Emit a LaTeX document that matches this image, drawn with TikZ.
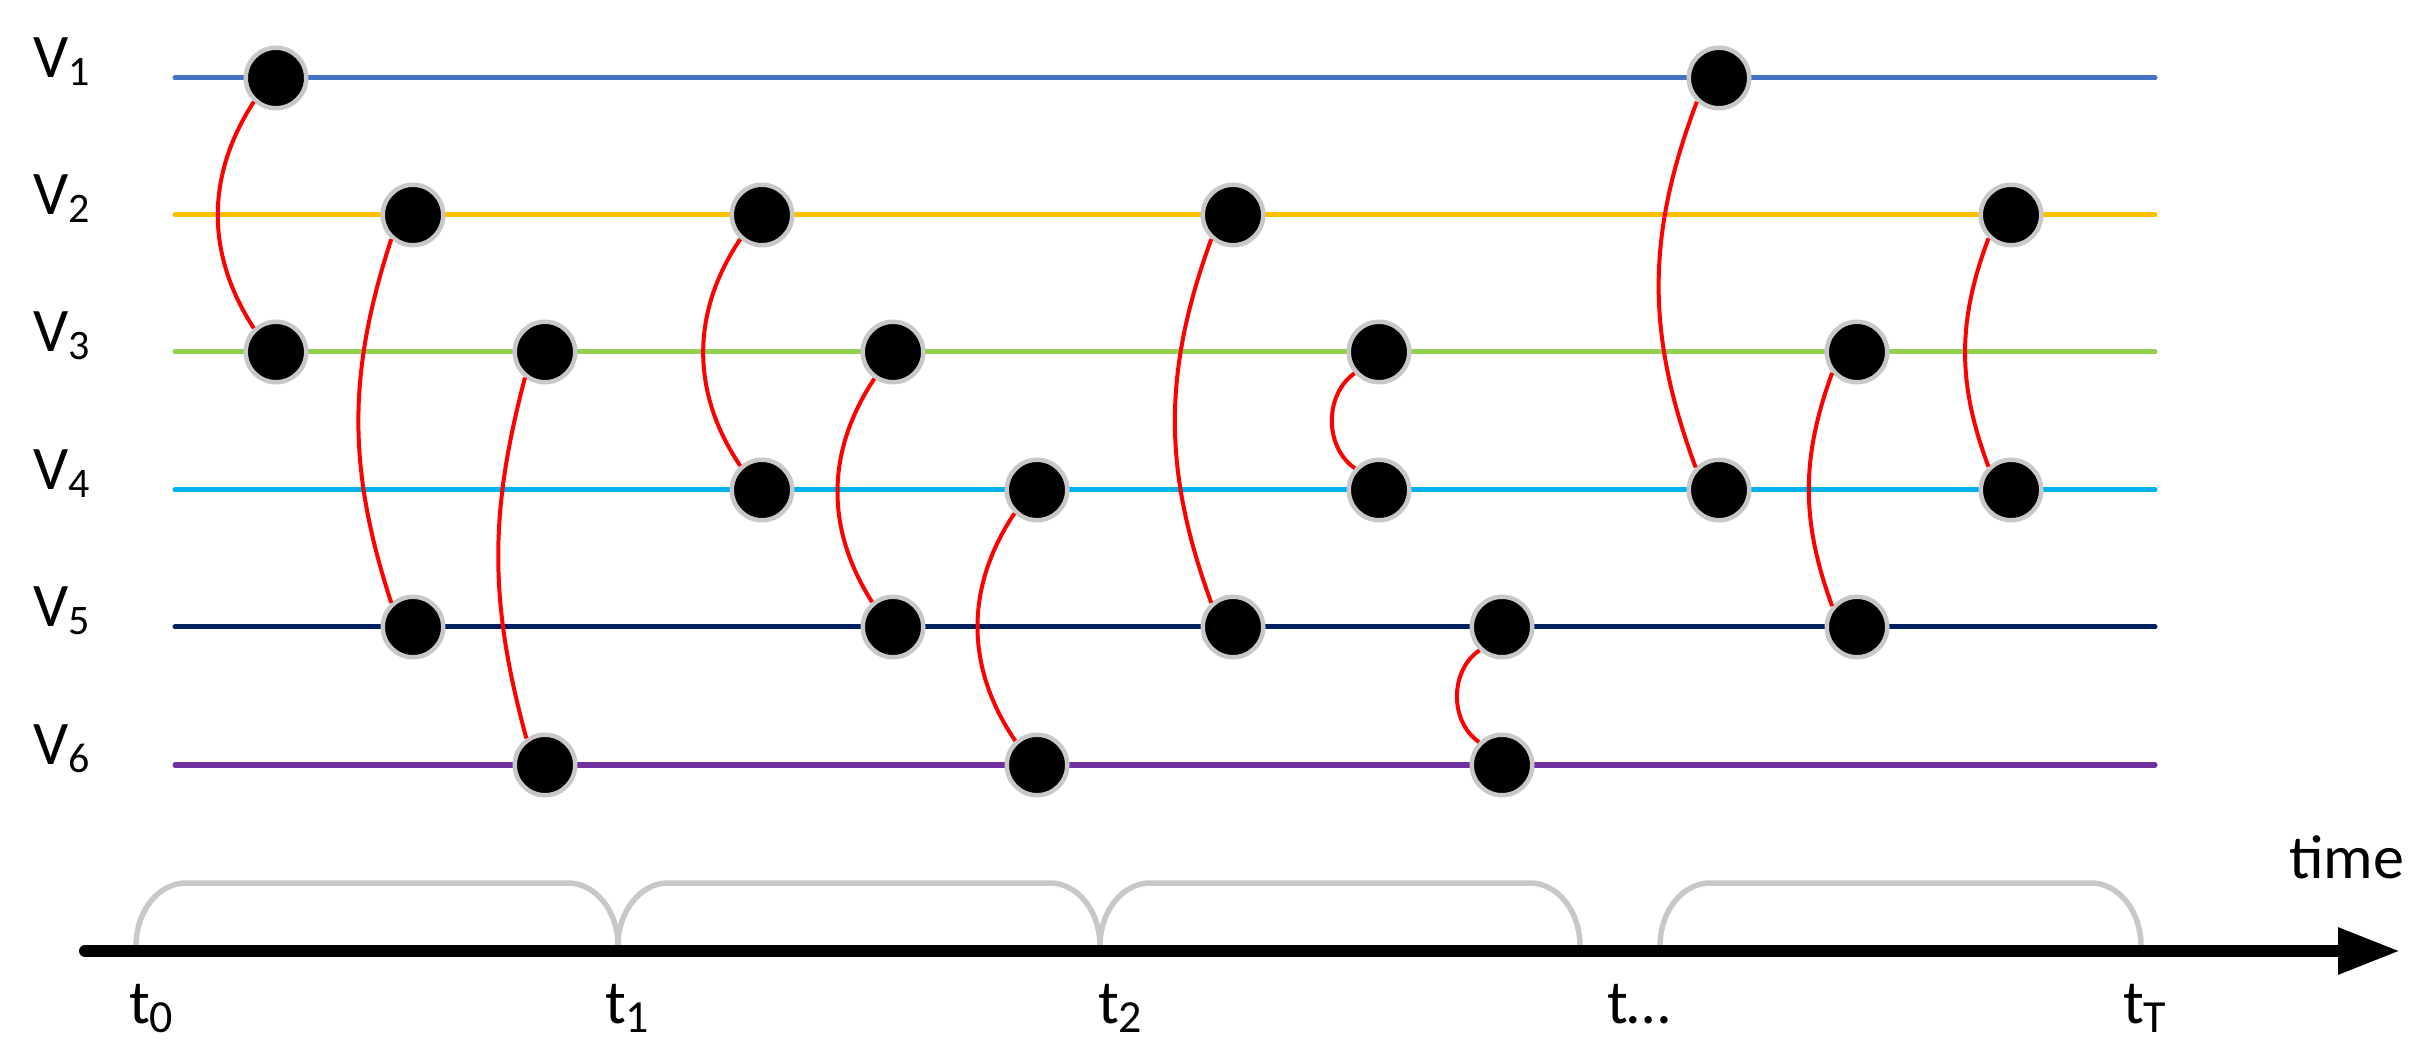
\documentclass[tikz,border=0pt]{standalone}
\usepackage{fontspec}
\setmainfont{Carlito}
\usetikzlibrary{arrows.meta}
\definecolor{cV1}{HTML}{4472C4}
\definecolor{cV2}{HTML}{FFC000}
\definecolor{cV3}{HTML}{92D050}
\definecolor{cV4}{HTML}{00B0F0}
\definecolor{cV5}{HTML}{002060}
\definecolor{cV6}{HTML}{7030A0}
\definecolor{ringgray}{HTML}{C8C8C8}
\definecolor{edgered}{HTML}{FF0000}
\newcommand{\bigtxt}{\fontsize{62}{70}\selectfont}
\newcommand{\subtxt}[3]{\raisebox{-#1pt}{\fontsize{#2}{#2}\selectfont #3}}
\begin{document}
\begin{tikzpicture}[x=1pt,y=1pt,
  tline/.style={line width=5pt,line cap=round},
  event/.style={circle,fill=black,draw=ringgray,line width=4.5pt,minimum size=60.5pt,inner sep=0pt},
  link/.style={draw=edgered,line width=4pt},
  lab/.style={inner sep=0pt,anchor=base west,font=\bigtxt},
  brace/.style={draw=ringgray,line width=5.5pt}]
\useasboundingbox (0,0) rectangle (2435,1050);
% time lines
\draw[tline,cV1] (175,972) -- (2155,972);
\draw[tline,cV2] (175,835) -- (2155,835);
\draw[tline,cV3] (175,698) -- (2155,698);
\draw[tline,cV4] (175,560) -- (2155,560);
\draw[tline,cV5] (175,423) -- (2155,423);
\draw[tline,cV6] (175,285) -- (2155,285);
% labels
\node[lab] (l1) at (33,972) {V\subtxt{8}{42}{1}};
\node[lab] (l2) at (33,835) {V\subtxt{8}{42}{2}};
\node[lab] (l3) at (33,698) {V\subtxt{8}{42}{3}};
\node[lab] (l4) at (33,560) {V\subtxt{8}{42}{4}};
\node[lab] (l5) at (33,423) {V\subtxt{8}{42}{5}};
\node[lab] (l6) at (33,285) {V\subtxt{8}{42}{6}};
% events
\node[event] (n11) at (276,972) {};
\node[event] (n12) at (1719,972) {};
\node[event] (n21) at (413,835) {};
\node[event] (n22) at (762,835) {};
\node[event] (n23) at (1233,835) {};
\node[event] (n24) at (2011,835) {};
\node[event] (n31) at (276,698) {};
\node[event] (n32) at (545,698) {};
\node[event] (n33) at (893,698) {};
\node[event] (n34) at (1379,698) {};
\node[event] (n35) at (1857,698) {};
\node[event] (n41) at (762,560) {};
\node[event] (n42) at (1037,560) {};
\node[event] (n43) at (1379,560) {};
\node[event] (n44) at (1719,560) {};
\node[event] (n45) at (2011,560) {};
\node[event] (n51) at (413,423) {};
\node[event] (n52) at (893,423) {};
\node[event] (n53) at (1233,423) {};
\node[event] (n54) at (1502,423) {};
\node[event] (n55) at (1857,423) {};
\node[event] (n61) at (545,285) {};
\node[event] (n62) at (1037,285) {};
\node[event] (n63) at (1502,285) {};
% links
\draw[link] (n11.227) to[bend right=33] (n31.133);
\draw[link] (n21.228) to[bend right=18] (n51.132);
\draw[link] (n32.232) to[bend right=15] (n61.125);
\draw[link] (n22.228) to[bend right=34] (n41.132);
\draw[link] (n33.235) to[bend right=33] (n52.130);
\draw[link] (n42.226) to[bend right=34] (n62.132);
\draw[link] (n23.228) to[bend right=20] (n53.132);
\draw[link] (n34.221) to[bend right=55] (n43.138);
\draw[link] (n54.226) to[bend right=56] (n63.135);
\draw[link] (n12.227) to[bend right=20.5] (n44.136);
\draw[link] (n35.220) to[bend right=20] (n55.140);
\draw[link] (n24.226) to[bend right=20.5] (n45.134);
% braces
\draw[brace] (136,104) arc[start angle=180,end angle=90,x radius=50,y radius=63] -- (568,167) arc[start angle=90,end angle=0,x radius=50,y radius=63];
\draw[brace] (618,104) arc[start angle=180,end angle=90,x radius=50,y radius=63] -- (1050,167) arc[start angle=90,end angle=0,x radius=50,y radius=63];
\draw[brace] (1100,104) arc[start angle=180,end angle=90,x radius=50,y radius=63] -- (1530,167) arc[start angle=90,end angle=0,x radius=50,y radius=63];
\draw[brace] (1660,104) arc[start angle=180,end angle=90,x radius=50,y radius=63] -- (2091,167) arc[start angle=90,end angle=0,x radius=50,y radius=63];
% axis
\coordinate (ax0) at (85,99);
\coordinate (ax1) at (2400,99);
\draw[line width=12pt,line cap=round,-{Triangle[length=62pt,width=44pt]}] (ax0) -- (ax1);
% time labels
\node[lab] (t0) at (129,27) {t\subtxt{9}{46}{0}};
\node[lab] (t1) at (605,27) {t\subtxt{9}{46}{1}};
\node[lab] (t2) at (1098,27) {t\subtxt{9}{46}{2}};
\node[lab] (t3) at (1607,27) {t…};
\node[lab] (tT) at (2123,27) {t\subtxt{9}{46}{T}};
\node[lab] (time) at (2289,172) {time};
\end{tikzpicture}
\end{document}
